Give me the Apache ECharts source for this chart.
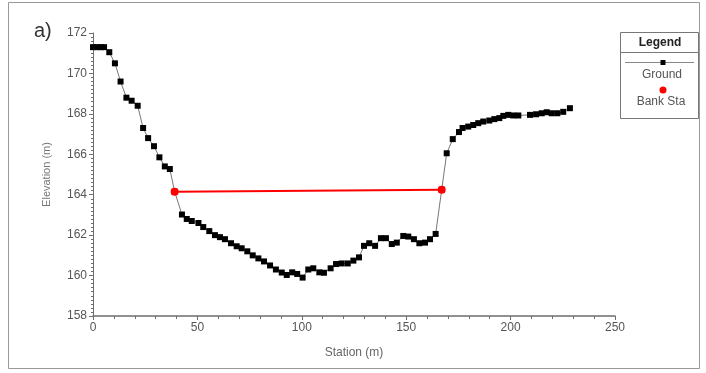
<!DOCTYPE html>
<html>
<head>
<meta charset="utf-8">
<script src="https://cdn.jsdelivr.net/npm/echarts@6/dist/echarts.min.js"></script>
<style>
  html, body { margin: 0; padding: 0; background: #fff; }
  #chart { width: 706px; height: 373px; }
</style>
</head>
<body>
<div id="chart"></div>
<script>
// ground profile, station (m) / elevation (m)
const groundStation = [0, 2, 3.7, 5.3, 7.8, 10.5, 13.2, 16, 18.5, 21.4, 24, 26.4, 29.2, 31.8, 34.4, 36.8, 39.1, 42.6, 44.9, 47.3, 50.5, 52.8, 55.7, 58.4, 60.8, 63.2, 66.1, 68.8, 71.2, 73.9, 76.5, 79.2, 81.9, 84.8, 87.6, 90.4, 92.8, 95.4, 97.8, 100.4, 103.1, 105.5, 108.4, 110.6, 113.8, 116.4, 119.1, 122, 124.7, 127.4, 129.8, 132.3, 135.1, 137.9, 140.3, 143.1, 145.5, 148.6, 151, 153.7, 156.3, 159, 161.4, 164.1, 167, 169.4, 172.3, 175.3, 177, 179.7, 182.1, 184.5, 186.9, 189.8, 192.2, 194.6, 196.5, 198.9, 201.3, 203.7, 209.3, 212.2, 214.9, 217.3, 219.7, 222.4, 225.2, 228.4];
const groundElev = [171.3, 171.3, 171.3, 171.3, 171.05, 170.5, 169.6, 168.8, 168.65, 168.4, 167.3, 166.8, 166.4, 165.85, 165.4, 165.27, 164.15, 163.02, 162.8, 162.7, 162.6, 162.4, 162.2, 162.0, 161.9, 161.8, 161.6, 161.45, 161.35, 161.2, 161.0, 160.85, 160.7, 160.5, 160.3, 160.15, 160.03, 160.16, 160.08, 159.9, 160.3, 160.36, 160.16, 160.14, 160.36, 160.57, 160.6, 160.6, 160.74, 160.9, 161.47, 161.6, 161.47, 161.85, 161.85, 161.56, 161.63, 161.96, 161.93, 161.8, 161.6, 161.63, 161.8, 162.06, 164.25, 166.05, 166.75, 167.1, 167.3, 167.37, 167.45, 167.54, 167.62, 167.67, 167.74, 167.79, 167.9, 167.95, 167.92, 167.92, 167.95, 167.98, 168.03, 168.08, 168.03, 168.03, 168.1, 168.28];

// bank stations
const bankStation = [39.1, 167];
const bankElev = [164.15, 164.25];

const xTicks = [0, 50, 100, 150, 200, 250];
const yTicks = [158, 160, 162, 164, 166, 168, 170, 172];

const font = '"Liberation Sans Narrow", "Liberation Sans", Arial, sans-serif';
const axisGray = '#6e6e6e';

const chart = echarts.init(document.getElementById('chart'));

const option = {
  animation: false,
  backgroundColor: '#fff',
  grid: { left: 93, right: 91, top: 33, bottom: 57 },
  xAxis: {
    type: 'value',
    min: xTicks[0],
    max: xTicks[xTicks.length - 1],
    interval: 50,
    name: 'Station (m)',
    nameLocation: 'middle',
    nameGap: 31,
    nameTextStyle: { color: '#666', fontFamily: font, fontSize: 12 },
    axisLine: { show: true, lineStyle: { color: axisGray, width: 1.5 } },
    axisTick: { show: true, length: 4, lineStyle: { color: axisGray } },
    minorTick: { show: true, splitNumber: 5, length: 3, lineStyle: { color: axisGray } },
    axisLabel: { color: '#555', fontFamily: font, fontSize: 12, margin: 6 },
    splitLine: { show: false }
  },
  yAxis: {
    type: 'value',
    min: yTicks[0],
    max: yTicks[yTicks.length - 1],
    interval: 2,
    name: 'Elevation (m)',
    nameLocation: 'middle',
    nameGap: 41,
    nameTextStyle: { color: '#777', fontFamily: font, fontSize: 11 },
    axisLine: { show: true, lineStyle: { color: axisGray, width: 1 } },
    axisTick: { show: true, length: 4, lineStyle: { color: axisGray } },
    minorTick: { show: true, splitNumber: 10, length: 2, lineStyle: { color: axisGray } },
    axisLabel: { color: '#555', fontFamily: font, fontSize: 12, margin: 6 },
    splitLine: { show: false }
  },
  series: [
    {
      name: 'Ground',
      type: 'line',
      data: groundStation.map((s, i) => [s, groundElev[i]]),
      symbol: 'rect',
      symbolSize: 6,
      showAllSymbol: true,
      itemStyle: { color: '#000' },
      lineStyle: { color: '#777', width: 1 },
      z: 2
    },
    {
      name: 'Bank Sta',
      type: 'line',
      data: bankStation.map((s, i) => [s, bankElev[i]]),
      symbol: 'circle',
      symbolSize: 8,
      itemStyle: { color: '#ff0000' },
      lineStyle: { color: '#ff0000', width: 2 },
      z: 3
    }
  ],
  graphic: [
    // outer frame
    { type: 'rect', shape: { x: 8.5, y: 2.5, width: 691, height: 366 },
      style: { fill: 'none', stroke: '#999', lineWidth: 1 }, silent: true },
    { type: 'text', left: 34, top: 21,
      style: { text: 'a)', fill: '#333', font: '20px "Liberation Sans", Arial, sans-serif' } },
    // legend box
    { type: 'rect', shape: { x: 620.5, y: 32.5, width: 78, height: 86 },
      style: { fill: '#fff', stroke: '#777', lineWidth: 1 } },
    { type: 'line', shape: { x1: 620.5, y1: 52.5, x2: 698.5, y2: 52.5 },
      style: { stroke: '#777', lineWidth: 1 } },
    { type: 'text', x: 660, y: 43,
      style: { text: 'Legend', fill: '#222', align: 'center', verticalAlign: 'middle',
               font: 'bold 12px ' + font } },
    { type: 'line', shape: { x1: 625, y1: 62.5, x2: 694, y2: 62.5 },
      style: { stroke: '#888', lineWidth: 1 } },
    { type: 'rect', shape: { x: 660.5, y: 60, width: 5, height: 5 }, style: { fill: '#000' } },
    { type: 'text', x: 662, y: 75,
      style: { text: 'Ground', fill: '#555', align: 'center', verticalAlign: 'middle',
               font: '12px ' + font } },
    { type: 'circle', shape: { cx: 663, cy: 90, r: 3.5 }, style: { fill: '#ff0000' } },
    { type: 'text', x: 661, y: 102,
      style: { text: 'Bank Sta', fill: '#555', align: 'center', verticalAlign: 'middle',
               font: '12px ' + font } }
  ]
};

chart.setOption(option);
</script>
</body>
</html>
